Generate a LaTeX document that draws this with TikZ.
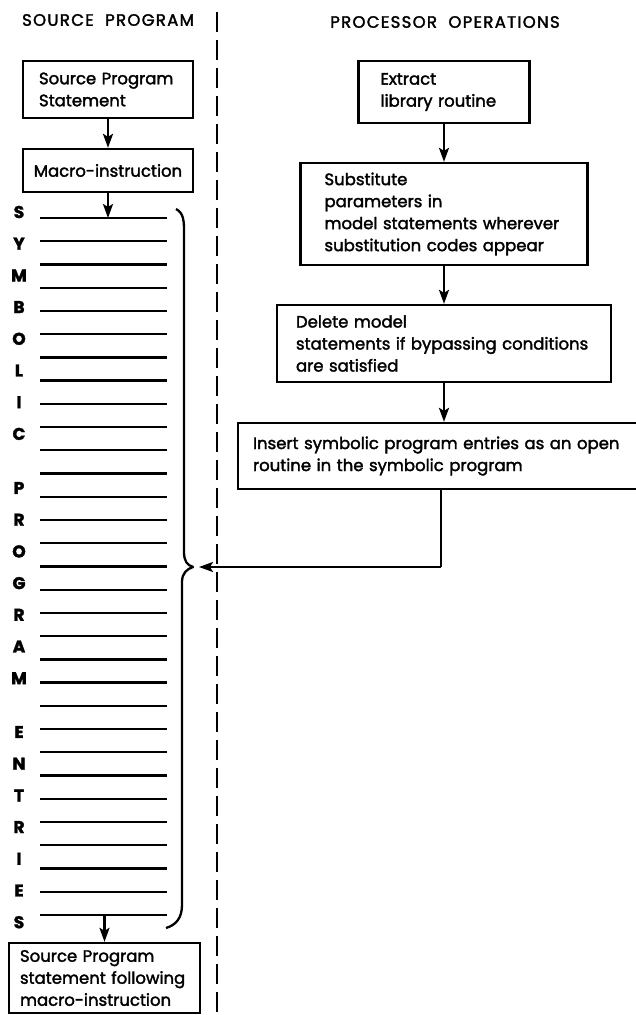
\documentclass[tikz,border=0pt]{standalone}
\usepackage{fontspec}
\setmainfont{Poppins}[FakeBold=2]
\usepackage{tikz}
\usetikzlibrary{arrows.meta}
\usetikzlibrary{positioning}
\tikzset{
    box/.style = {rectangle, draw=black, line width=2.3pt, align=left, inner ysep=0pt},
    head/.style = {font=\fontsize{16.5}{20}\selectfont\addfontfeature{LetterSpace=8}},
    letter/.style = {font=\fontsize{17}{18}\selectfont\bfseries, inner sep=0pt},
}
\begin{document}
\begin{tikzpicture}[
	x=1pt, y=-1pt,
	font=\fontsize{16.5}{22}\selectfont
]
\tikzset{
    flow/.style = {-{Stealth[length=14pt,width=10pt,inset=3pt]}, line width=2.3pt},
    entry/.style = {line width=2.3pt},
    divider/.style = {line width=2.3pt, dash pattern=on 20pt off 8pt},
    bracket/.style = {line width=2.3pt, line join=round}
}
\useasboundingbox (0,0) rectangle (636,1015);
\node[head] at (108,20) (hsrc) {SOURCE\ \ PROGRAM};
\node[head] at (445,22) (hproc) {PROCESSOR\ \ OPERATIONS};
\coordinate (dtop) at (217,12);
\coordinate (dbot) at (217,1015);
\draw[divider] (dtop) -- (dbot);
%
\node[box, minimum width=170, minimum height=57, inner xsep=16, text width=138] at (108,89.5) (stmt) {Source Program\\Statement};
\node[box, minimum width=170, minimum height=43, align=center] at (108,170.5) (macro) {Macro-instruction};
\node[box, minimum width=191, minimum height=70, inner xsep=11, text width=169] at (104.5,978) (follow) {Source Program\\statement following\\macro-instruction};
%
\node[box, minimum width=171, minimum height=62, inner xsep=22, text width=127] at (444,92) (extract) {Extract\\library routine};
\node[box, minimum width=287, minimum height=102, inner xsep=24, text width=239] at (444,214) (subst) {Substitute\\parameters in\\model statements wherever\\substitution codes appear};
\node[box, minimum width=334, minimum height=77, inner xsep=19, text width=296] at (444,343.5) (delete) {Delete model\\statements if bypassing conditions\\are satisfied};
\node[box, minimum width=430, minimum height=66, inner xsep=15, text width=400] at (453,456) (insert) {Insert symbolic program entries as an open\\routine in the symbolic program};
%
\foreach \k in {0,...,30}
    \draw[entry] (40,218+23.23*\k) -- (167,218+23.23*\k);
\foreach \ch [count=\k from 0] in {S,Y,M,B,O,L,I,C}
    \node[letter] at (19,212+31.7*\k) (sym\k) {\ch};
\foreach \ch [count=\k from 0] in {P,R,O,G,R,A,M}
    \node[letter] at (19,488+31.7*\k) (prg\k) {\ch};
\foreach \ch [count=\k from 0] in {E,N,T,R,I,E,S}
    \node[letter] at (19,732+31.7*\k) (ent\k) {\ch};
%
\draw[bracket] (176,209) .. controls (184,213) and (184,222) .. (184,232)
    -- (184,552) .. controls (184,561) and (187,565) .. (193,567)
    .. controls (187,569) and (182,573) .. (182,582)
    -- (182,905) .. controls (182,918) and (176,925) .. (166,928);
%
\coordinate (first) at (108,218);
\coordinate (last) at (104.5,915);
\coordinate (turn) at (441,567);
\coordinate (gather) at (199,567);
\draw[flow] (stmt) -- (macro);
\draw[flow] (macro) -- (first);
\draw[flow] (last) -- (follow);
\draw[flow] (extract) -- (subst);
\draw[flow] (subst) -- (delete);
\draw[flow] (delete) -- (delete |- insert.north);
\draw[line width=2.3pt] (insert.south -| turn) -- (turn);
\draw[flow] (turn) -- (gather);
\end{tikzpicture}
\end{document}
